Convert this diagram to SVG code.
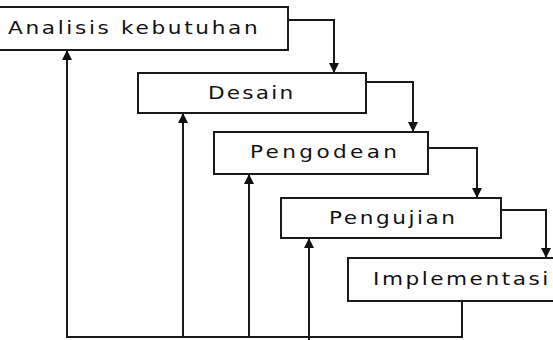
<svg xmlns="http://www.w3.org/2000/svg" width="553" height="340" viewBox="0 0 553 340">
<style>
.box{fill:#fff;stroke:#1a1a1a;stroke-width:2}
.lbl{font-family:"DejaVu Sans",sans-serif;font-size:18px;fill:#111}
.con{fill:none;stroke:#1a1a1a;stroke-width:2}
</style>
<defs>
<marker id="ah" viewBox="0 0 10 10" refX="10" refY="5" markerWidth="10" markerHeight="12" markerUnits="userSpaceOnUse" orient="auto">
<path d="M0,0 L10,5 L0,10 z" fill="#111"/>
</marker>
</defs>
<rect width="553" height="340" fill="#fff"/>
<g id="connectors">
<path class="con" d="M288,20 H334 V73" marker-end="url(#ah)"/>
<path class="con" d="M366,82 H413 V132" marker-end="url(#ah)"/>
<path class="con" d="M428,148 H477 V198" marker-end="url(#ah)"/>
<path class="con" d="M501,210 H546 V258" marker-end="url(#ah)"/>
<path class="con" d="M462,301 V337 H67 V50" marker-end="url(#ah)"/>
<path class="con" d="M183,337 V113" marker-end="url(#ah)"/>
<path class="con" d="M249,337 V174" marker-end="url(#ah)"/>
<path class="con" d="M309,340 V238" marker-end="url(#ah)"/>
</g>
<g id="analisis">
<rect class="box" x="-5" y="7" width="293" height="43"/>
<text class="lbl" transform="translate(8,34) scale(1.2,1)" textLength="208" lengthAdjust="spacing">Analisis kebutuhan</text>
</g>
<g id="desain">
<rect class="box" x="138" y="73" width="228" height="40"/>
<text class="lbl" transform="translate(208,99) scale(1.2,1)" textLength="71" lengthAdjust="spacing">Desain</text>
</g>
<g id="pengodean">
<rect class="box" x="214" y="132" width="214" height="42"/>
<text class="lbl" transform="translate(250,158) scale(1.2,1)" textLength="122.5" lengthAdjust="spacing">Pengodean</text>
</g>
<g id="pengujian">
<rect class="box" x="281" y="198" width="220" height="40"/>
<text class="lbl" transform="translate(329,224) scale(1.2,1)" textLength="105" lengthAdjust="spacing">Pengujian</text>
</g>
<g id="implementasi">
<rect class="box" x="348" y="258" width="215" height="43"/>
<text class="lbl" transform="translate(373,285) scale(1.2,1)" textLength="146" lengthAdjust="spacing">Implementasi</text>
</g>
</svg>
